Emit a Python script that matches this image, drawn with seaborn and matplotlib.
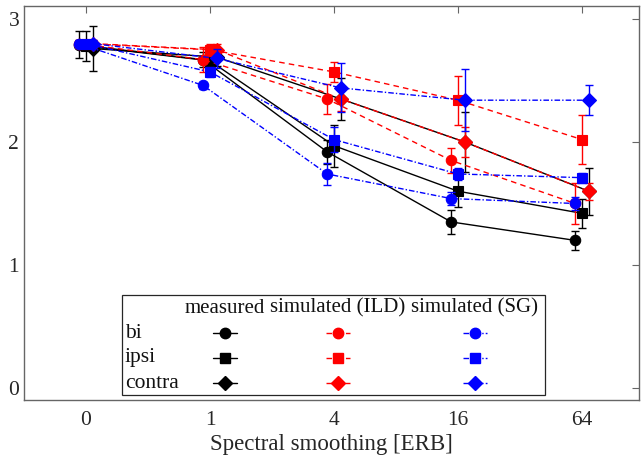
import numpy as np
import pandas as pd
import seaborn as sns
import matplotlib
matplotlib.use("Agg")
import matplotlib.pyplot as plt
from matplotlib.patches import Rectangle
from matplotlib.lines import Line2D

# ---- data ----
tick_labels = ["0", "1", "4", "16", "64"]
conditions = ["bi", "ipsi", "contra"]
models = ["measured", "simulated (ILD)", "simulated (SG)"]

measured_bi = [2.79, 2.67, 1.92, 1.35, 1.20]
measured_bi_err = [0.11, 0.06, 0.10, 0.10, 0.08]
measured_ipsi = [2.78, 2.66, 1.97, 1.60, 1.42]
measured_ipsi_err = [0.12, 0.06, 0.17, 0.13, 0.12]
measured_contra = [2.76, 2.69, 2.35, 2.00, 1.60]
measured_contra_err = [0.18, 0.07, 0.17, 0.24, 0.19]

ild_bi = [2.80, 2.67, 2.35, 1.85, 1.50]
ild_bi_err = [0.03, 0.10, 0.12, 0.10, 0.17]
ild_ipsi = [2.80, 2.75, 2.57, 2.34, 2.02]
ild_ipsi_err = [0.03, 0.05, 0.08, 0.20, 0.20]
ild_contra = [2.80, 2.75, 2.35, 2.00, 1.60]
ild_contra_err = [0.03, 0.05, 0.10, 0.12, 0.07]

sg_bi = [2.80, 2.46, 1.74, 1.54, 1.50]
sg_bi_err = [0.03, 0.03, 0.09, 0.05, 0.05]
sg_ipsi = [2.80, 2.57, 2.02, 1.74, 1.71]
sg_ipsi_err = [0.03, 0.04, 0.10, 0.05, 0.04]
sg_contra = [2.80, 2.68, 2.44, 2.34, 2.34]
sg_contra_err = [0.03, 0.08, 0.20, 0.25, 0.12]

series = {
    ("measured", "bi"): (measured_bi, measured_bi_err),
    ("measured", "ipsi"): (measured_ipsi, measured_ipsi_err),
    ("measured", "contra"): (measured_contra, measured_contra_err),
    ("simulated (ILD)", "bi"): (ild_bi, ild_bi_err),
    ("simulated (ILD)", "ipsi"): (ild_ipsi, ild_ipsi_err),
    ("simulated (ILD)", "contra"): (ild_contra, ild_contra_err),
    ("simulated (SG)", "bi"): (sg_bi, sg_bi_err),
    ("simulated (SG)", "ipsi"): (sg_ipsi, sg_ipsi_err),
    ("simulated (SG)", "contra"): (sg_contra, sg_contra_err),
}

# ---- styles ----
colors = {"measured": "black", "simulated (ILD)": "#ff0000", "simulated (SG)": "#0000ff"}
lstyles = {"measured": "-", "simulated (ILD)": (0, (4, 3)), "simulated (SG)": (0, (4, 1.5, 1, 1.5))}
markers = {"bi": "o", "ipsi": "s", "contra": "D"}
msizes = {"bi": 7.5, "ipsi": 6.8, "contra": 7}
offsets = {"bi": -0.055, "ipsi": 0.0, "contra": 0.055}

sns.set_theme(style="white")
plt.rcParams["font.family"] = ["Liberation Serif", "DejaVu Serif"]

fig = plt.figure(figsize=(6.41, 4.59), dpi=100)
ax = fig.add_axes([24 / 641, 59 / 459, 615 / 641, 394 / 459])

base = np.arange(len(tick_labels))
z = 2
for m in models:
    for c in conditions:
        vals, errs = series[(m, c)]
        xs = base + offsets[c]
        df = pd.DataFrame({"x": xs, "y": vals})
        sns.lineplot(data=df, x="x", y="y", ax=ax, color=colors[m], linewidth=1.0,
                     marker=markers[c], markersize=msizes[c], markeredgecolor=colors[m],
                     markeredgewidth=0.8, sort=False, zorder=z + 1)
        ax.lines[-1].set_linestyle(lstyles[m])
        ax.errorbar(xs, vals, yerr=errs, fmt="none", ecolor=colors[m], elinewidth=1.0,
                    capsize=3, capthick=1.0, zorder=z)
        z += 2

ax.set_xlim(-0.5, 4.46)
ax.set_ylim(-0.098, 3.106)
ax.set_xticks(base)
ax.set_xticklabels(tick_labels)
ax.set_yticks([0, 1, 2, 3])
ax.set_xlabel("Spectral smoothing [ERB]", fontsize=16.5, color="#262626", labelpad=3)
ax.set_ylabel("")
ax.tick_params(axis="both", direction="in", length=5, width=0.8, labelsize=15.5,
               top=True, right=True, colors="#666666", labelcolor="#262626")
ax.tick_params(axis="x", pad=8)
for s in ax.spines.values():
    s.set_color("#666666")
    s.set_linewidth(1.0)

# ---- custom table legend ----
tr = ax.transAxes
ax.add_patch(Rectangle((0.159, 0.013), 0.688, 0.253, transform=tr, facecolor="white",
                       edgecolor="#262626", linewidth=0.9, zorder=40))
col_x = {"measured": 0.327, "simulated (ILD)": 0.5106, "simulated (SG)": 0.733}
row_y = {"bi": 0.170, "ipsi": 0.1066, "contra": 0.043}
for m in models:
    ax.text(col_x[m], 0.2335, m, transform=tr, ha="center", va="center", fontsize=15,
            color="#111111", zorder=41)
for c in conditions:
    ax.text(0.164, row_y[c], c, transform=tr, ha="left", va="center", fontsize=15.5,
            color="#111111", zorder=41)
    for m in models:
        cx = col_x[m]
        ln = Line2D([cx - 0.0195, cx + 0.0195], [row_y[c], row_y[c]], transform=tr,
                    color=colors[m], linestyle=lstyles[m], linewidth=1.0, zorder=42)
        ax.add_line(ln)
        mk = Line2D([cx], [row_y[c]], transform=tr, color=colors[m], marker=markers[c],
                    markersize=msizes[c], linestyle="none", zorder=43)
        ax.add_line(mk)

fig.savefig("out.png", dpi=100)
